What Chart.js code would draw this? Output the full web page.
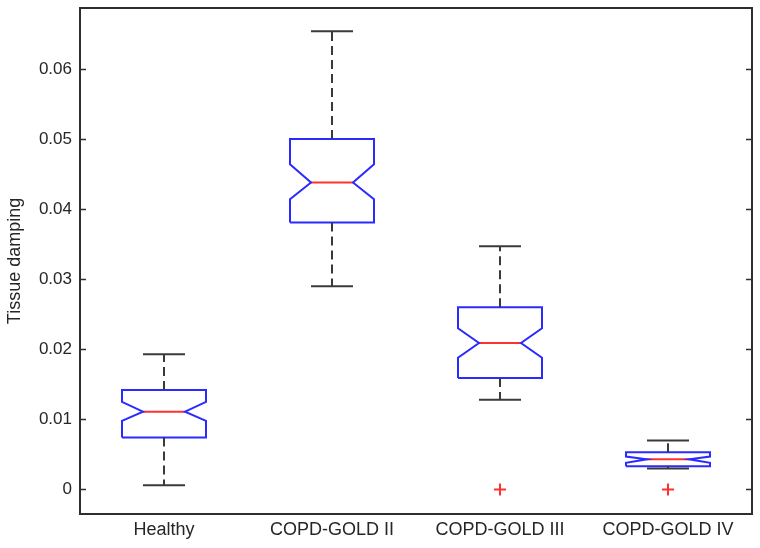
<!DOCTYPE html>
<html>
<head>
<meta charset="utf-8">
<script src="https://cdn.jsdelivr.net/npm/chart.js@4/dist/chart.umd.min.js"></script>
<style>
  html, body { margin: 0; padding: 0; background: #ffffff; }
  #wrap { width: 760px; height: 548px; position: relative; }
</style>
</head>
<body>
<div id="wrap"><canvas id="c" width="760" height="548"></canvas></div>
<script>
// ---- data ----
const categories = ['Healthy', 'COPD-GOLD II', 'COPD-GOLD III', 'COPD-GOLD IV'];
const whiskerHigh = [0.0193, 0.0654, 0.0347, 0.0070];
const q3Values    = [0.0142, 0.0500, 0.0260, 0.0053];
const notchHigh   = [0.0125, 0.0464, 0.0230, 0.0047];
const medians     = [0.0111, 0.0438, 0.0209, 0.0043];
const notchLow    = [0.0098, 0.0414, 0.0188, 0.0038];
const q1Values    = [0.0074, 0.0381, 0.0159, 0.0033];
const whiskerLow  = [0.0006, 0.0290, 0.0128, 0.0030];
const outliers    = [[], [], [0.0], [0.0]];
const yTickValues = [0, 0.01, 0.02, 0.03, 0.04, 0.05, 0.06];
const yTickLabels = ['0', '0.01', '0.02', '0.03', '0.04', '0.05', '0.06'];
const yAxisTitle  = 'Tissue damping';

// ---- styling ----
const BOX_HALF = 0.25, NOTCH_HALF = 0.125, CAP_HALF = 0.125;
const BLUE = '#2b2bff', RED = '#ff3030', GRAY = '#3a3a3a', TEXT = '#262626';
const FONT = "'Liberation Sans', Arial, sans-serif";

const datasets = [];
function seg(points, color, dash, width) {
  datasets.push({
    data: points, showLine: true, borderColor: color, backgroundColor: color,
    borderWidth: width || 2, borderDash: dash || [], pointRadius: 0,
    pointHoverRadius: 0, fill: false, tension: 0
  });
}
categories.forEach((cat, i) => {
  const x = i + 1;
  const L = x - BOX_HALF, R = x + BOX_HALF, iL = x - NOTCH_HALF, iR = x + NOTCH_HALF;
  // whiskers (dashed) and caps
  seg([{x: x, y: q3Values[i]}, {x: x, y: whiskerHigh[i]}], GRAY, [9, 5]);
  seg([{x: x, y: q1Values[i]}, {x: x, y: whiskerLow[i]}], GRAY, [9, 5]);
  seg([{x: x - CAP_HALF, y: whiskerHigh[i]}, {x: x + CAP_HALF, y: whiskerHigh[i]}], GRAY);
  seg([{x: x - CAP_HALF, y: whiskerLow[i]}, {x: x + CAP_HALF, y: whiskerLow[i]}], GRAY);
  // notched box
  seg([
    {x: L, y: q1Values[i]}, {x: L, y: notchLow[i]}, {x: iL, y: medians[i]},
    {x: L, y: notchHigh[i]}, {x: L, y: q3Values[i]}, {x: R, y: q3Values[i]},
    {x: R, y: notchHigh[i]}, {x: iR, y: medians[i]}, {x: R, y: notchLow[i]},
    {x: R, y: q1Values[i]}, {x: L, y: q1Values[i]}
  ], BLUE);
  // median
  seg([{x: iL, y: medians[i]}, {x: iR, y: medians[i]}], RED);
  // outliers
  if (outliers[i].length) {
    datasets.push({
      data: outliers[i].map(v => ({x: x, y: v})), showLine: false,
      pointStyle: 'cross', pointRadius: 6, pointHoverRadius: 6,
      borderColor: RED, backgroundColor: RED, borderWidth: 2
    });
  }
});

const framePlugin = {
  id: 'frame',
  afterDraw(chart) {
    const {ctx, chartArea: a, scales} = chart;
    ctx.save();
    ctx.strokeStyle = '#2e2e2e';
    ctx.lineWidth = 1.5;
    // inward ticks on left and right
    scales.y.ticks.forEach(t => {
      const py = Math.round(scales.y.getPixelForValue(t.value)) + 0.5;
      ctx.beginPath();
      ctx.moveTo(a.left, py); ctx.lineTo(a.left + 6, py);
      ctx.moveTo(a.right, py); ctx.lineTo(a.right - 6, py);
      ctx.stroke();
    });
    ctx.lineWidth = 2;
    ctx.strokeRect(a.left, a.top, a.right - a.left, a.bottom - a.top);
    ctx.restore();
  }
};

new Chart(document.getElementById('c'), {
  type: 'scatter',
  data: { datasets },
  options: {
    responsive: false,
    animation: false,
    events: [],
    layout: { padding: { left: 0, top: 6, right: 7, bottom: 0 } },
    plugins: { legend: { display: false }, tooltip: { enabled: false } },
    scales: {
      x: {
        type: 'linear', min: 0.5, max: 4.5,
        afterBuildTicks: s => { s.ticks = categories.map((c, i) => ({ value: i + 1 })); },
        afterFit: s => { s.height = 34; s.paddingLeft = 0; s.paddingRight = 0; },
        grid: { display: false, drawTicks: false },
        border: { display: false },
        ticks: {
          autoSkip: false, maxRotation: 0, padding: 5, color: TEXT,
          font: { family: FONT, size: 18 },
          callback: v => categories[Math.round(v) - 1]
        }
      },
      y: {
        type: 'linear', min: -0.0035, max: 0.0687,
        afterBuildTicks: s => { s.ticks = yTickValues.map(v => ({ value: v })); },
        afterFit: s => { s.width = 80; s.paddingTop = 0; s.paddingBottom = 0; },
        grid: { display: false, drawTicks: false },
        border: { display: false },
        ticks: {
          padding: 8, color: TEXT,
          font: { family: FONT, size: 17 },
          callback: v => { const k = yTickValues.indexOf(v); return k >= 0 ? yTickLabels[k] : ''; }
        },
        title: {
          display: true, text: yAxisTitle, color: TEXT,
          font: { family: FONT, size: 18 },
          padding: { top: 4, bottom: 0 }
        }
      }
    }
  },
  plugins: [framePlugin]
});
</script>
</body>
</html>
